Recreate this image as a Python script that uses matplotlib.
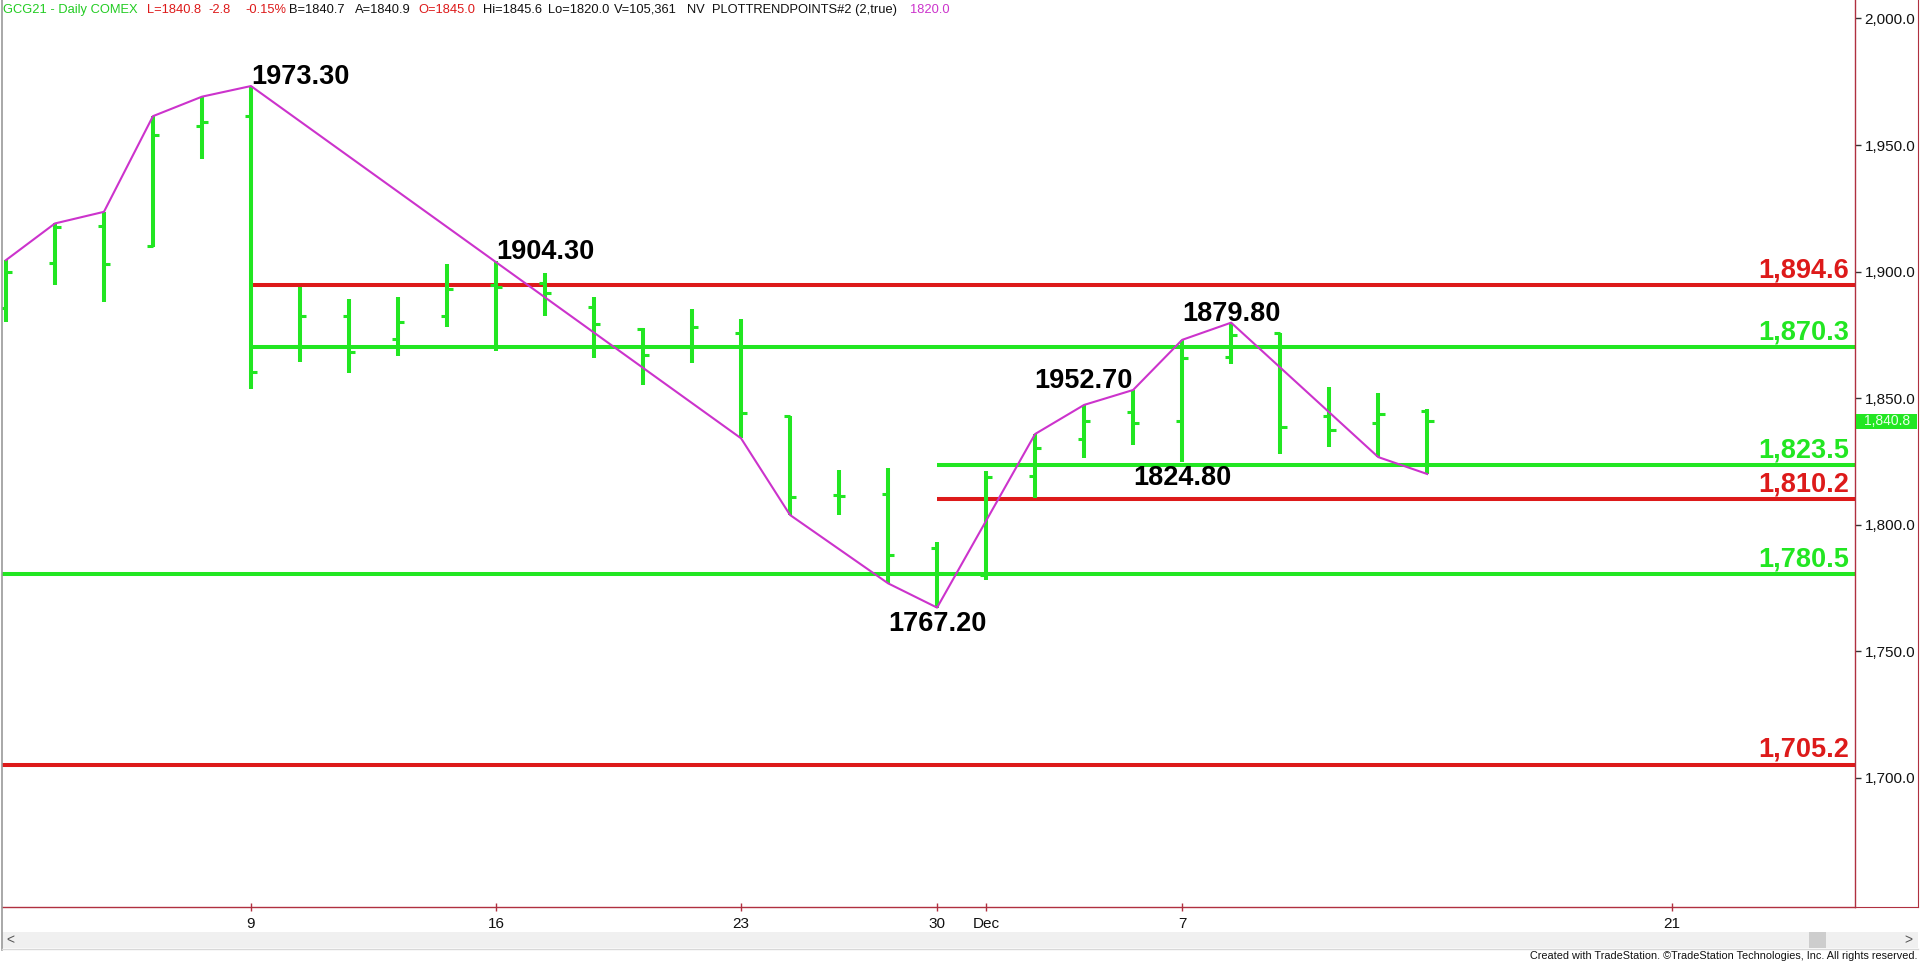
import matplotlib

matplotlib.use("Agg")
import matplotlib.pyplot as plt
import matplotlib.transforms as mtransforms
import numpy as np
import pandas as pd
from matplotlib.lines import Line2D
from matplotlib.patches import Rectangle

plt.rcParams["font.family"] = ["Liberation Sans", "DejaVu Sans"]

# --- data (GC daily, Nov 2 .. Dec 14 2020) ---
opens = [1885.5, 1903.2, 1918.1, 1910.2, 1957.5, 1961.6, 1870.6, 1882.4, 1873.2, 1882.5,
         1894.6, 1895.3, 1885.9, 1877.2, 1870.3, 1875.6, 1842.9, 1811.7, 1812.1, 1790.6,
         1780.1, 1819.2, 1833.7, 1844.6, 1840.9, 1866.1, 1875.6, 1842.9, 1840.0, 1845.0]
highs = [1904.5, 1919.0, 1923.6, 1961.4, 1969.1, 1973.3, 1894.0, 1889.0, 1889.8, 1903.0,
         1904.3, 1899.3, 1889.8, 1877.6, 1885.1, 1881.1, 1842.9, 1821.6, 1822.5, 1793.2,
         1821.3, 1835.8, 1847.3, 1853.2, 1873.0, 1879.8, 1875.8, 1854.5, 1851.9, 1845.6]
lows = [1880.2, 1894.7, 1888.1, 1909.8, 1944.3, 1853.5, 1864.4, 1859.8, 1866.6, 1878.2,
        1868.6, 1882.4, 1865.7, 1855.2, 1864.0, 1834.1, 1803.8, 1803.8, 1776.8, 1767.2,
        1778.1, 1810.4, 1826.2, 1831.5, 1824.8, 1863.4, 1827.9, 1830.8, 1826.8, 1820.0]
closes = [1899.9, 1917.7, 1903.0, 1953.8, 1959.1, 1860.4, 1882.5, 1868.1, 1879.9, 1893.0,
          1893.8, 1891.6, 1879.3, 1867.0, 1878.0, 1844.0, 1810.8, 1811.3, 1788.0, 1781.0,
          1818.7, 1830.1, 1840.9, 1840.0, 1865.7, 1874.9, 1838.7, 1837.4, 1843.7, 1840.8]

# swing line (PLOTTRENDPOINTS)
swing_dates = ["2020-11-02", "2020-11-03", "2020-11-04", "2020-11-05", "2020-11-06",
               "2020-11-09", "2020-11-23", "2020-11-24", "2020-11-27", "2020-11-30",
               "2020-12-02", "2020-12-03", "2020-12-04", "2020-12-07", "2020-12-08",
               "2020-12-11", "2020-12-14"]
swing_values = [1904.5, 1919.0, 1923.6, 1961.4, 1969.1, 1973.3, 1834.1, 1803.8, 1776.8,
                1767.2, 1835.8, 1847.3, 1853.2, 1873.0, 1879.8, 1826.7, 1820.0]

# support / resistance levels
levels = [1894.6, 1870.3, 1823.5, 1810.2, 1780.5, 1705.2]
level_kinds = ["res", "sup", "sup", "res", "sup", "res"]
level_starts = ["2020-11-09", "2020-11-09", "2020-11-30", "2020-11-30", None, None]

# swing point labels
swing_labels = ["1973.30", "1904.30", "1767.20", "1952.70", "1824.80", "1879.80"]
swing_label_dates = ["2020-11-09", "2020-11-16", "2020-11-30", "2020-12-04", "2020-12-07", "2020-12-08"]
swing_label_values = [1973.3, 1904.3, 1767.2, 1853.2, 1824.8, 1879.8]
swing_label_align = [("left", "bottom"), ("left", "bottom"), ("center", "top"),
                     ("right", "bottom"), ("center", "top"), ("center", "bottom")]

tick_dates = ["2020-11-09", "2020-11-16", "2020-11-23", "2020-11-30", "2020-12-01", "2020-12-07", "2020-12-21"]
tick_labels = ["9", "16", "23", "30", "Dec", "7", "21"]

GREEN = "#22E622"
RED = "#DD1A1A"
PINK = "#CC33CC"
AXIS_RED = "#B03040"

calendar = pd.bdate_range("2020-11-02", "2020-12-31")
calendar = calendar[~calendar.isin(pd.to_datetime(["2020-11-26", "2020-12-25"]))]
xpos = {d.strftime("%Y-%m-%d"): i for i, d in enumerate(calendar)}

W, H = 1920, 963


def fx(px):
    return px / W


def fy(py):
    return 1 - py / H


fig = plt.figure(figsize=(W / 100, H / 100), dpi=100)
fig.patch.set_facecolor("white")
ax = fig.add_axes([fx(2), fy(907), fx(1855) - fx(2), fy(0) - fy(907)])
ax.set_xlim(-0.08, 37.73)
ax.set_ylim(1648.9, 2007.3)

# OHLC bars
x = np.arange(len(opens))
ax.vlines(x, lows, highs, color=GREEN, lw=2.9, zorder=3)
ax.hlines(opens, x - 0.13, x, color=GREEN, lw=2.2, zorder=3)
ax.hlines(closes, x, x + 0.13, color=GREEN, lw=2.2, zorder=3)

# levels
x_right = ax.get_xlim()[1]
for lvl, kind, start in zip(levels, level_kinds, level_starts):
    c = RED if kind == "res" else GREEN
    x0 = ax.get_xlim()[0] if start is None else xpos[start]
    ax.hlines(lvl, x0, x_right, color=c, lw=2.9, zorder=2)
    ax.annotate(f"{lvl:,.1f}", xy=(1, lvl), xycoords=("axes fraction", "data"),
                xytext=(-4, 5.5), textcoords="offset points", ha="right", va="baseline",
                fontsize=19.5, fontweight="bold", color=c, zorder=5)

# swing line
ax.plot([xpos[d] for d in swing_dates], swing_values, color=PINK, lw=1.5, zorder=4)

for txt, d, v, (ha, va) in zip(swing_labels, swing_label_dates, swing_label_values, swing_label_align):
    if va == "bottom":
        ax.annotate(txt, xy=(xpos[d], v), xytext=(0, 1.5), textcoords="offset points",
                    ha=ha, va="baseline", fontsize=19.5, fontweight="bold",
                    color="black", zorder=6)
    else:
        ax.annotate(txt, xy=(xpos[d], v), xytext=(0, -2.5), textcoords="offset points",
                    ha=ha, va="top", fontsize=19.5, fontweight="bold",
                    color="black", zorder=6)

# axes styling
for s in ["top", "left"]:
    ax.spines[s].set_visible(False)
for s in ["right", "bottom"]:
    ax.spines[s].set_color(AXIS_RED)
    ax.spines[s].set_linewidth(1)

yt = np.arange(1700, 2001, 50)
ax.set_yticks(yt)
ax.set_yticklabels([f"{v:,.1f}" for v in yt])
ax.yaxis.tick_right()
ax.tick_params(axis="y", length=4, width=1, color="#333333", labelsize=11,
               labelcolor="#111111", pad=3)
ax.set_xticks([xpos[d] for d in tick_dates])
ax.set_xticklabels(tick_labels)
ax.tick_params(axis="x", direction="inout", length=6, width=1, color=AXIS_RED,
               labelsize=11, labelcolor="#111111", pad=4)

# last price tag
blend = mtransforms.blended_transform_factory(ax.transAxes, ax.transData)
tag_w = 61 / 1853
ax.add_patch(Rectangle((1.0006, closes[-1] - 3.0), tag_w, 6.0, transform=blend,
                       facecolor=GREEN, edgecolor="none", clip_on=False, zorder=5))
ax.text(1.0006 + tag_w / 2, closes[-1], f"{closes[-1]:,.1f}", transform=blend,
        ha="center", va="center", fontsize=10, color="#E8FFE8", zorder=6)

# header
header = [
    ("GCG21 - Daily COMEX", "#22CC22", 3),
    ("L=1840.8", RED, 147),
    ("-2.8", RED, 208),
    ("-0.15%", RED, 245),
    ("B=1840.7", "#111111", 289),
    ("A=1840.9", "#111111", 355),
    ("O=1845.0", RED, 418),
    ("Hi=1845.6", "#111111", 483),
    ("Lo=1820.0", "#111111", 548),
    ("V=105,361", "#111111", 614),
    ("NV", "#111111", 687),
    ("PLOTTRENDPOINTS#2 (2,true)", "#111111", 712),
    ("1820.0", "#CC33CC", 910),
]
for txt, c, px in header:
    fig.text(fx(px), fy(10), txt, color=c, fontsize=9.3, ha="left", va="center")

# window chrome: borders, scrollbar, footer
fig.add_artist(Line2D([fx(1.5), fx(1.5)], [fy(0), fy(950)], transform=fig.transFigure,
                      color="#9A9A9A", lw=1.2))
fig.add_artist(Line2D([fx(1918), fx(1918)], [fy(0), fy(907)], transform=fig.transFigure,
                      color=AXIS_RED, lw=0.8))
fig.add_artist(Line2D([fx(1855), fx(1918)], [fy(907), fy(907)], transform=fig.transFigure,
                      color=AXIS_RED, lw=0.8))
fig.add_artist(Rectangle((fx(2), fy(948)), fx(1918) - fx(2), fy(932) - fy(948),
                         transform=fig.transFigure, facecolor="#F0F0F0", edgecolor="none"))
fig.add_artist(Line2D([fx(2), fx(1918)], [fy(949), fy(949)], transform=fig.transFigure,
                      color="#D8D8D8", lw=1))
fig.add_artist(Rectangle((fx(1809), fy(948)), fx(1826) - fx(1809), fy(932) - fy(948),
                         transform=fig.transFigure, facecolor="#CDCDCD", edgecolor="none"))
fig.text(fx(10), fy(940), "<", fontsize=10, color="#555555", ha="center", va="center")
fig.text(fx(1908), fy(940), ">", fontsize=10, color="#555555", ha="center", va="center")
fig.text(fx(1918), fy(956), "Created with TradeStation. \u00a9TradeStation Technologies, Inc. All rights reserved.",
         fontsize=7.8, color="#111111", ha="right", va="center")

fig.savefig("out.png", dpi=100)
